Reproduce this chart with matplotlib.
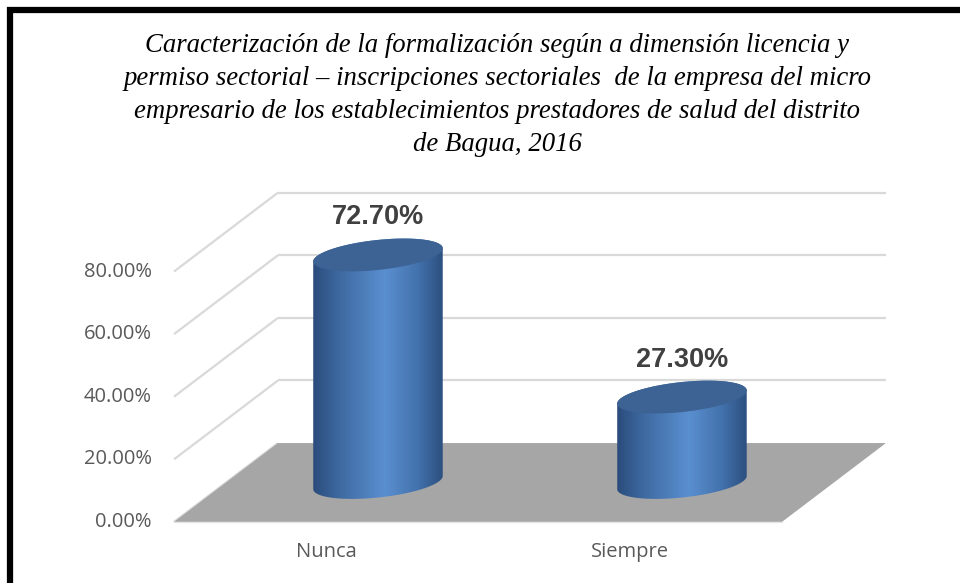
#!/usr/bin/env python3

import numpy as np
import matplotlib
matplotlib.use('Agg')
import matplotlib.pyplot as plt
from matplotlib.patches import Polygon, Rectangle
from matplotlib.colors import LinearSegmentedColormap

# data
categories = ["Nunca", "Siempre"]
values = [0.727, 0.273]
value_labels = ["72.70%", "27.30%"]
yticks = [0.0, 0.2, 0.4, 0.6, 0.8]
ytick_labels = ["0.00%", "20.00%", "40.00%", "60.00%", "80.00%"]
title = ("Caracterización de la formalización según a dimensión licencia y\n"
         "permiso sectorial – inscripciones sectoriales  de la empresa del micro\n"
         "empresario de los establecimientos prestadores de salud del distrito\n"
         "de Bagua, 2016")

# fake 3d geometry (in data units)
DX, DY = 0.171, 0.126      # half depth offset
RX, RY, SHEAR = 0.213, 0.048, 0.021
GRID = "#d9d9d9"

fig = plt.figure(figsize=(9.6, 5.83), dpi=100)
ax = fig.add_axes([0.1404, 0.03817, 0.8233, 0.6711])
ax.set_xlim(-0.8, 1.8)
ax.set_ylim(-0.25, 1.0)
ax.axis('off')

x0, x1 = -0.5, len(categories) - 0.5

# floor
floor = Polygon([(x0 - DX, -DY), (x1 - DX, -DY), (x1 + DX, DY), (x0 + DX, DY)],
                closed=True, facecolor="#a6a6a6", edgecolor="none", zorder=1)
ax.add_patch(floor)
ax.plot([x0 - DX, x1 - DX], [-DY, -DY], color="#e6e6e6", lw=1, zorder=1.1)

# gridlines on side wall and back wall
for v, lab in zip(yticks, ytick_labels):
    ax.plot([x0 - DX, x0 + DX], [v - DY, v + DY], color=GRID, lw=1.6,
            solid_capstyle='butt', zorder=0.5)
    if v > 0:
        ax.plot([x0 + DX, x1 + DX], [v + DY, v + DY], color=GRID, lw=1.6,
                solid_capstyle='butt', zorder=0.5)
    ax.annotate(lab, (x0 - DX, v - DY),
                xytext=(-16, 0), textcoords='offset points',
                ha='right', va='center', fontsize=14.5,
                family='Open Sans', color="#595959")

# cylinders
body_cmap = LinearSegmentedColormap.from_list(
    "cyl", [(0.0, "#2a4c7c"), (0.2, "#3e69a0"), (0.55, "#5a8fd0"),
            (0.8, "#4473ae"), (1.0, "#2c507f")])
grad = np.linspace(0, 1, 256).reshape(1, -1)


def ellipse(cx, cy, t):
    return cx + RX * np.cos(t), cy + RY * np.sin(t) + SHEAR * np.cos(t)


for i, v in enumerate(values):
    t_up = np.linspace(0, np.pi, 80)
    t_dn = np.linspace(np.pi, 2 * np.pi, 80)
    tx, ty = ellipse(i, v, t_up)
    bx, by = ellipse(i, 0.0, t_dn)
    pts = np.column_stack([np.r_[tx, bx], np.r_[ty, by]])
    body = Polygon(pts, closed=True, facecolor="none", edgecolor="none",
                   transform=ax.transData)
    ax.add_patch(body)
    im = ax.imshow(grad, cmap=body_cmap, aspect='auto',
                   extent=[i - RX, i + RX, -RY - SHEAR, v + RY + SHEAR],
                   zorder=2, interpolation='bilinear')
    im.set_clip_path(body)
    t_all = np.linspace(0, 2 * np.pi, 160)
    ex, ey = ellipse(i, v, t_all)
    ax.fill(ex, ey, color="#3c6393", zorder=3, lw=0)

    ax.annotate(value_labels[i], (i, v), xytext=(0, 27),
                textcoords='offset points', ha='center', va='center',
                fontsize=19.5, fontweight='bold', family='Liberation Sans',
                color="#404040", zorder=4)
    ax.annotate(categories[i], (i - DX, -DY), xytext=(0, -22),
                textcoords='offset points', ha='center', va='center',
                fontsize=14.5, family='Open Sans', color="#595959")

ax.set_xlim(-0.8, 1.8)
ax.set_ylim(-0.25, 1.0)

fig.text(0.518, 1 - 95 / 583, title, ha='center', va='center',
         fontsize=19.3, style='italic', family='Liberation Serif',
         linespacing=1.42, color="#000000")

# black frame
fig.patches.append(Rectangle((10 / 960, -0.1), 1.1, 1 - 10 / 583 + 0.1,
                             transform=fig.transFigure, fill=False,
                             edgecolor="black", lw=4.5))

plt.savefig('out.png', dpi=100)
